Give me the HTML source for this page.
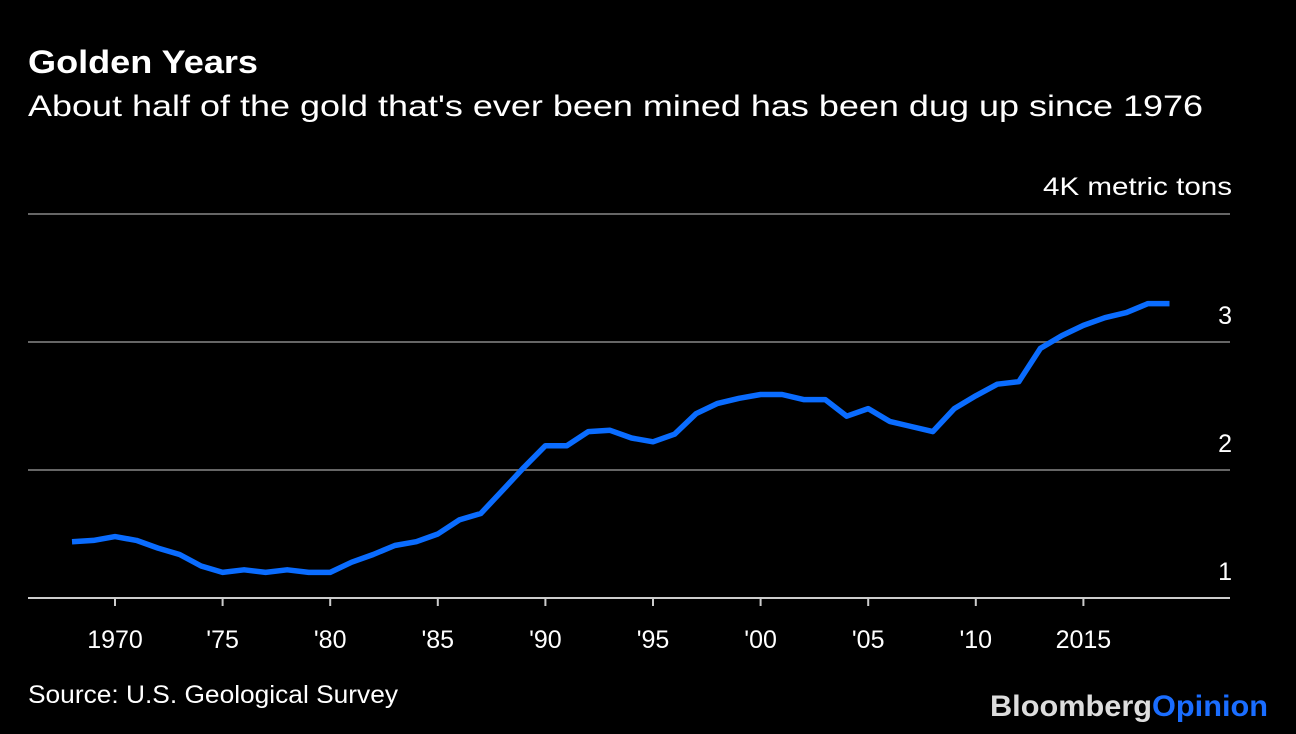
<!DOCTYPE html>
<html><head><meta charset="utf-8"><style>
html,body{margin:0;padding:0;background:#000;width:1296px;height:734px;overflow:hidden}
svg{display:block}
text{font-family:"Liberation Sans",sans-serif;fill:#fff}
</style></head><body>
<svg width="1296" height="734">
<text x="28" y="73" font-size="32" font-weight="bold" textLength="230" lengthAdjust="spacingAndGlyphs">Golden Years</text>
<text x="28" y="116" font-size="30" textLength="1175" lengthAdjust="spacingAndGlyphs">About half of the gold that's ever been mined has been dug up since 1976</text>
<text x="1043" y="195" font-size="25" textLength="189" lengthAdjust="spacingAndGlyphs">4K metric tons</text>
<g id="grid"></g><g id="xaxis"></g>
<path id="line" fill="none" stroke="#0a6cff" stroke-width="5.5" stroke-linejoin="round"/>
<text x="28" y="703" font-size="25" textLength="370" lengthAdjust="spacingAndGlyphs">Source: U.S. Geological Survey</text>
<text x="990" y="716" font-size="30" font-weight="bold" textLength="278" lengthAdjust="spacingAndGlyphs"><tspan fill="#ddd">Bloomberg</tspan><tspan fill="#1a6dff">Opinion</tspan></text>
</svg>
<script>
const years=[1968,1969,1970,1971,1972,1973,1974,1975,1976,1977,1978,1979,1980,1981,1982,1983,1984,1985,1986,1987,1988,1989,1990,1991,1992,1993,1994,1995,1996,1997,1998,1999,2000,2001,2002,2003,2004,2005,2006,2007,2008,2009,2010,2011,2012,2013,2014,2015,2016,2017,2018,2019];
const values=[1.44,1.45,1.48,1.45,1.39,1.34,1.25,1.20,1.22,1.20,1.22,1.20,1.20,1.28,1.34,1.41,1.44,1.50,1.61,1.66,1.84,2.02,2.19,2.19,2.30,2.31,2.25,2.22,2.28,2.44,2.52,2.56,2.59,2.59,2.55,2.55,2.42,2.48,2.38,2.34,2.30,2.48,2.58,2.67,2.69,2.95,3.05,3.13,3.19,3.23,3.30,3.30];
const yTicks=[1,2,3,4];
const xTickYears=[1970,1975,1980,1985,1990,1995,2000,2005,2010,2015];
const xTickLabels=["1970","'75","'80","'85","'90","'95","'00","'05","'10","2015"];
const NS="http://www.w3.org/2000/svg";
const x=yr=>115+(yr-1970)*21.52;
const y=v=>598-(v-1)*128;
const grid=document.getElementById('grid');
yTicks.forEach(t=>{
  const l=document.createElementNS(NS,'line');
  l.setAttribute('x1',28);l.setAttribute('x2',1230);l.setAttribute('y1',y(t));l.setAttribute('y2',y(t));
  l.setAttribute('stroke',t===1?'#ccc':'#666');l.setAttribute('stroke-width',2);
  
  
  grid.appendChild(l);
  if(t<4){const tx=document.createElementNS(NS,'text');
  tx.setAttribute('x',1232);tx.setAttribute('y',y(t)-18);tx.setAttribute('text-anchor','end');tx.setAttribute('font-size',25);
  tx.textContent=t;
  
  
  grid.appendChild(tx);}
});
const xa=document.getElementById('xaxis');
xTickYears.forEach((yr,i)=>{
  const l=document.createElementNS(NS,'line');
  l.setAttribute('x1',x(yr));l.setAttribute('x2',x(yr));l.setAttribute('y1',598);l.setAttribute('y2',606);
  l.setAttribute('stroke','#ccc');l.setAttribute('stroke-width',2);
  
  
  xa.appendChild(l);
  const tx=document.createElementNS(NS,'text');
  tx.setAttribute('x',x(yr));tx.setAttribute('y',648);tx.setAttribute('text-anchor','middle');tx.setAttribute('font-size',25);
  tx.textContent=xTickLabels[i];
  
  
  xa.appendChild(tx);
});
document.getElementById('line').setAttribute('d',years.map((yr,i)=>(i?'L':'M')+x(yr).toFixed(1)+','+y(values[i]).toFixed(1)).join(''));
</script>
</body></html>
